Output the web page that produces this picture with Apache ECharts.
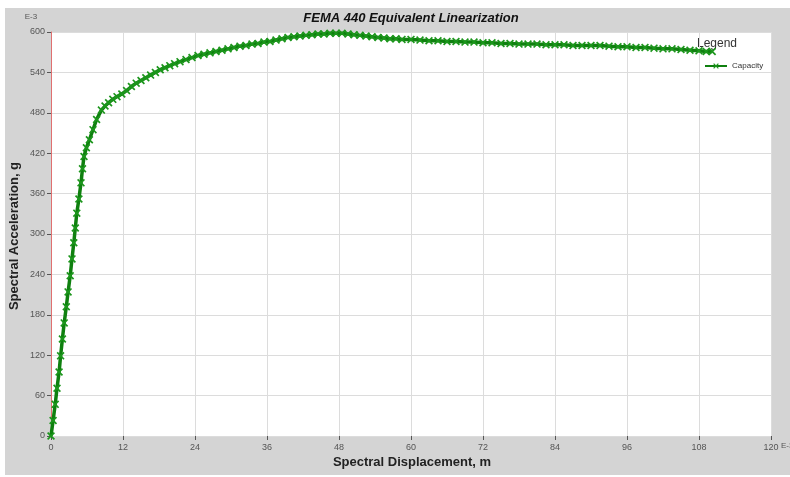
<!DOCTYPE html>
<html>
<head>
<meta charset="utf-8">
<script src="https://cdn.jsdelivr.net/npm/echarts@6/dist/echarts.min.js"></script>
<style>html,body{margin:0;padding:0;background:#fff}#c{width:790px;height:477px}</style>
</head>
<body>
<div id="c"></div>
<script>
// Spectral displacement (E-3 m) and spectral acceleration (E-3 g) of the capacity curve
var dispX = [0,0.35,0.7,1.0,1.35,1.6,1.9,2.2,2.55,2.85,3.2,3.5,3.8,4.05,4.3,4.65,5.0,5.25,5.5,5.9,6.4,7.0,7.6,
  8.4,9.0,9.6,10.3,11.0,11.8,12.6,13.4,14.2,15.0,15.8,16.6,17.4,18.2,19.0,19.8,20.6,21.5,22.5,23.5,24.5,25.5,26.5,27.5,28.5,29.5,
  30.5,31.5,32.5,33.5,34.5,35.5,36.5,37.5,38.5,39.5,40.5,41.5,42.5,43.5,44.5,45.5,46.5,47.5,48.5,49.5,50.5,51.5,52.5,53.5,54.5,
  55.5,56.5,57.5,58.5,60,61.5,63,64.5,66,67.5,69,70.5,72,73.5,75,76.5,78,79.5,81,82.5,84,85.5,87,88.5,90,91.5,93,94.5,96,97.5,
  99,100.5,102,103.5,105,106.5,108,109.2,110.2];
var accY = [0,23,47,71,95,119,144,168,192,214,238,263,287,309,331,352,376,397,415,428,440,455,470,
  484,490,495,500,504,508,513,519,524,528,532,536,540,544,547,550,553,556,559,562,565,567,569,571,573,575,
  577,579,580,582,583,585,586,588,590,592,593,594,595,596,597,597,598,598,598,597,596,595,594,593,592,
  591,590,590,589,589,588,587,587,586,586,585,585,584,584,583,583,582,582,582,581,581,581,580,580,580,580,579,578,578,577,
  577,576,575,575,574,573,572,571,571];
var xTicks = {min: 0, max: 120, step: 12};
var yTicks = {min: 0, max: 600, step: 60};
var seriesName = 'Capacity';
var titleText = 'FEMA 440 Equivalent Linearization';
var xName = 'Spectral Displacement, m';
var yName = 'Spectral Acceleration, g';

var points = dispX.map(function (d, i) { return [d, accY[i]]; });
var xMark = 'path://M0,1.5L1.5,0L5,3.5L8.5,0L10,1.5L6.5,5L10,8.5L8.5,10L5,6.5L1.5,10L0,8.5L3.5,5Z';
var font = 'Liberation Sans, Arial, sans-serif';

var chart = echarts.init(document.getElementById('c'), null, {renderer: 'canvas'});
chart.setOption({
  backgroundColor: '#ffffff',
  animation: false,
  graphic: [
    {type: 'rect', z: -10, shape: {x: 5, y: 8, width: 785, height: 467}, style: {fill: '#d4d4d4'}},
    {type: 'text', x: 411, y: 18, style: {text: titleText, font: 'italic bold 13px ' + font, fill: '#111', textAlign: 'center', textVerticalAlign: 'middle'}},
    {type: 'text', x: 31, y: 17, style: {text: 'E-3', font: '8px ' + font, fill: '#555', textAlign: 'center', textVerticalAlign: 'middle'}},
    {type: 'text', x: 781, y: 446, style: {text: 'E-3', font: '8px ' + font, fill: '#555', textAlign: 'left', textVerticalAlign: 'middle'}},
    {type: 'text', x: 412, y: 462, style: {text: xName, font: 'bold 13px ' + font, fill: '#222', textAlign: 'center', textVerticalAlign: 'middle'}},
    {type: 'text', x: 14, y: 236, rotation: Math.PI / 2, style: {text: yName, font: 'bold 13px ' + font, fill: '#222', textAlign: 'center', textVerticalAlign: 'middle'}},
    {type: 'text', x: 697, y: 44, style: {text: 'Legend', font: '12px ' + font, fill: '#333', textAlign: 'left', textVerticalAlign: 'middle'}}
  ],
  grid: {left: 51, top: 32, right: 19, bottom: 41, show: true, backgroundColor: '#ffffff', borderWidth: 0},
  legend: {
    data: [seriesName], left: 699, top: 57, itemWidth: 22, itemHeight: 7, itemGap: 4,
    textStyle: {fontSize: 8, color: '#333', fontFamily: font}
  },
  xAxis: {
    type: 'value', min: xTicks.min, max: xTicks.max, interval: xTicks.step,
    axisLine: {show: false},
    axisTick: {show: true, length: 4, lineStyle: {color: '#555'}},
    axisLabel: {fontSize: 9, color: '#555', fontFamily: font, margin: 7},
    splitLine: {show: true, lineStyle: {color: '#dcdcdc', width: 1}}
  },
  yAxis: {
    type: 'value', min: yTicks.min, max: yTicks.max, interval: yTicks.step,
    axisLine: {show: true, lineStyle: {color: '#e07070', width: 1}},
    axisTick: {show: true, length: 4, lineStyle: {color: '#555'}},
    axisLabel: {fontSize: 9, color: '#555', fontFamily: font, margin: 6},
    splitLine: {show: true, lineStyle: {color: '#dcdcdc', width: 1}}
  },
  series: [{
    name: seriesName, type: 'line', data: points,
    symbol: xMark, symbolSize: 8, showAllSymbol: true,
    lineStyle: {color: '#0f800f', width: 3.5},
    itemStyle: {color: '#1c961c', borderWidth: 0}
  }]
});
</script>
</body>
</html>
